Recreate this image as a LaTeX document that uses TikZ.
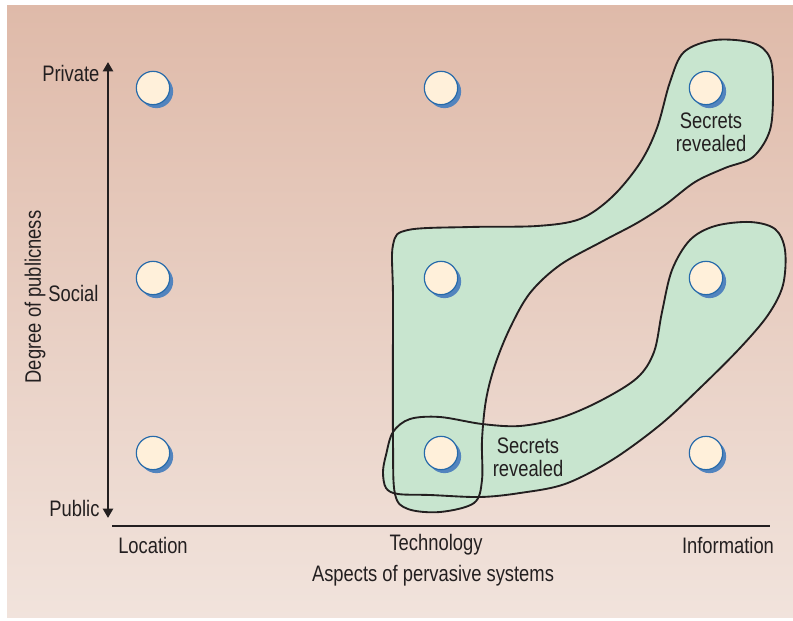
\documentclass[tikz,border=0pt]{standalone}
\usepackage{fontspec}
\setmainfont{Liberation Sans}[FakeStretch=0.82]
\usepackage{tikz}
\usetikzlibrary{arrows.meta, shadows}

\definecolor{bgtop}{RGB}{223,186,169}
\definecolor{bgbot}{RGB}{241,227,220}
\definecolor{blobgreen}{RGB}{200,229,207}
\definecolor{spotfill}{RGB}{255,240,218}
\definecolor{spotline}{RGB}{38,106,170}
\definecolor{spotshade}{RGB}{82,132,190}
\definecolor{ink}{RGB}{35,31,32}

\begin{document}
\begin{tikzpicture}[x=0.75pt, y=-0.75pt, >={Triangle[length=7pt, width=7.5pt]}, thick, inner sep=0pt,
	spot/.style={circle, draw=spotline, fill=spotfill, line width=0.9pt, minimum size=25pt,
		general shadow={fill=spotshade, shadow xshift=2.6pt, shadow yshift=-2.6pt}},
	lbl/.style={font=\fontsize{16.8}{17.5}\selectfont, text=ink, align=center},
	blob/.style={fill=blobgreen},
	rim/.style={draw=ink, line width=1.4pt}]
			\useasboundingbox (0,0) rectangle (793,621);
			\fill[top color=bgtop, bottom color=bgbot] (7,5) rectangle (793,617);
			
			% the two groups of revealed secrets
			\def\upperblob{plot[smooth cycle, tension=0.55] coordinates {(408,230) (470,227) (537,226) (580,219) (612,197) (640,163) (657,128) (670,82) (684,52) (715,40) (753,43) (770,58) (773,90) (770,130) (753,157) (725,168) (695,182) (665,205) (637,223) (603,241) (560,265) (530,293) (510,328) (495,365) (486,400) (482,440) (482,480) (474,503) (440,512) (408,509) (395,494) (393,440) (393,300) (393,245)}}
			\def\lowerblob{plot[smooth cycle, tension=0.55] coordinates {(386,455) (393,432) (410,419) (440,417) (482,424) (520,426) (560,418) (600,401) (637,378) (654,352) (662,312) (672,270) (690,240) (715,226) (750,222) (775,229) (785,250) (783,285) (768,315) (740,348) (700,388) (660,425) (612,460) (565,484) (520,493) (480,497) (430,495) (398,494) (386,488) (383,472)}}
			\fill[blob] \upperblob;
			\fill[blob] \lowerblob;
			\draw[rim] \upperblob;
			\draw[rim] \lowerblob;
			
			\node[spot](LP) at (153,88) {};
			\node[spot](LS) at (153,278) {};
			\node[spot](LU) at (153,453) {};
			\node[spot](TP) at (441,88) {};
			\node[spot](TS) at (441,278) {};
			\node[spot](TU) at (441,453) {};
			\node[spot](IP) at (706,88) {};
			\node[spot](IS) at (706,278) {};
			\node[spot](IU) at (706,453) {};
			
			\node[lbl](S1) at (711,132) {Secrets\\revealed};
			\node[lbl](S2) at (528,457) {Secrets\\revealed};
			
			% axes
			\coordinate (Ytop) at (108,62);
			\coordinate (Ybot) at (108,518);
			\coordinate (Xl) at (112,526);
			\coordinate (Xr) at (770,526);
			\draw[<->, draw=ink, line width=2pt](Ytop) -- (Ybot);
			\draw[-, draw=ink, line width=2.2pt](Xl) -- (Xr);
			
			\node[lbl, anchor=east](Priv) at (100,73) {Private};
			\node[lbl, anchor=east](Soc) at (99,293) {Social};
			\node[lbl, anchor=east](Pub) at (100,508) {Public};
			\node[lbl, rotate=90](Deg) at (35,297) {Degree of publicness};
			\node[lbl](Loc) at (153,545) {Location};
			\node[lbl](Tech) at (436,545) {Technology};
			\node[lbl](Info) at (728,545) {Information};
			\node[lbl](Asp) at (433,576) {Aspects of pervasive systems};
		\end{tikzpicture}
\end{document}
